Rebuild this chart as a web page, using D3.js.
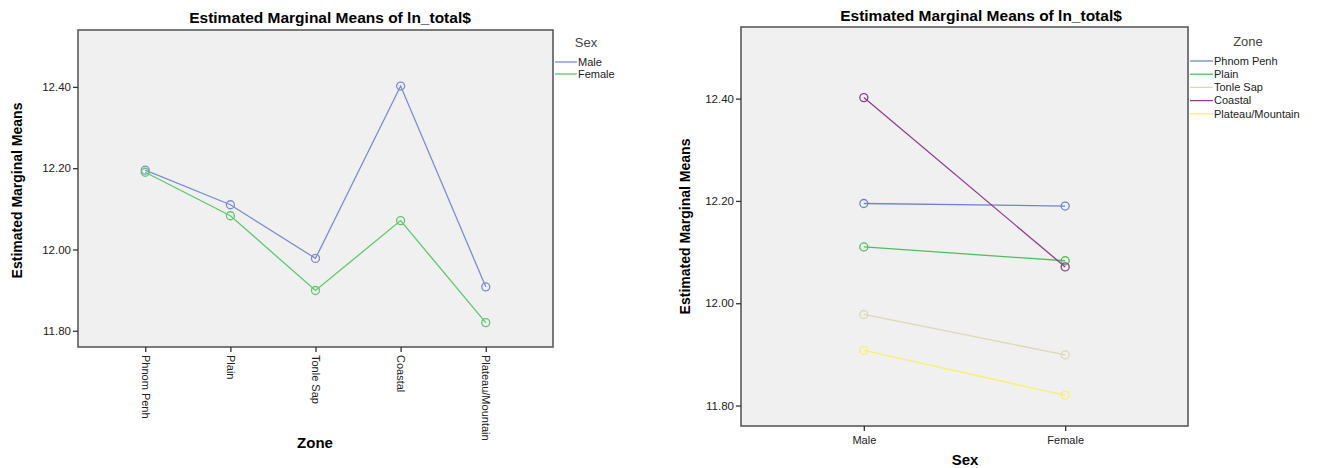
<!DOCTYPE html>
<html><head><meta charset="utf-8">
<script src="https://cdn.jsdelivr.net/npm/d3@7"></script>
<style>body{margin:0;background:#fff}svg{display:block}</style>
</head><body>
<svg id="c" width="1319" height="468"></svg>
<script>
const zones = ["Phnom Penh","Plain","Tonle Sap","Coastal","Plateau/Mountain"];
const sexes = ["Male","Female"];
const maleValues = [12.195, 12.110, 11.978, 12.402, 11.908];
const femaleValues = [12.190, 12.083, 11.899, 12.071, 11.820];
const yTicks = [11.80, 12.00, 12.20, 12.40];
const yDomain = [11.76, 12.54];
const title = "Estimated Marginal Means of ln_total$";
const yLabel = "Estimated Marginal Means";
const sexColors = ["#7b8dd0","#5fc86c"];
const zoneColors = ["#7185cc","#4cc25c","#dcd8b4","#8e3f93","#f6f06c"];

const svg = d3.select("#c");
const font = "'Liberation Sans', Arial, sans-serif";

function frame(g, x0, x1, y0, y1) {
  g.append("rect").attr("x", x0).attr("y", y0).attr("width", x1-x0).attr("height", y1-y0)
    .attr("fill", "#f0f0f0").attr("stroke", "#5a5a5a").attr("stroke-width", 1.6);
}
function yAxis(g, y, x0) {
  const ax = g.append("g").attr("transform", `translate(${x0},0)`)
    .call(d3.axisLeft(y).tickValues(yTicks).tickFormat(d3.format(".2f")).tickSize(5).tickPadding(2));
  ax.select(".domain").remove();
  ax.selectAll("line").attr("stroke", "#333").attr("stroke-width", 1.3);
  ax.selectAll("text").attr("font-family", font).attr("font-size", 11.5).attr("fill", "#222");
}

// ---------- Left chart ----------
{
  const L = {x0: 78, x1: 553, y0: 30, y1: 347};
  const g = svg.append("g");
  const x = d3.scalePoint().domain(zones).range([L.x0, L.x1]).padding(0.79);
  const y = d3.scaleLinear().domain(yDomain).range([L.y1, L.y0]);
  frame(g, L.x0, L.x1, L.y0, L.y1);
  yAxis(g, y, L.x0);
  const xa = g.append("g").attr("transform", `translate(0,${L.y1})`)
    .call(d3.axisBottom(x).tickSize(5).tickPadding(2));
  xa.select(".domain").remove();
  xa.selectAll("line").attr("stroke", "#333").attr("stroke-width", 1.3);
  xa.selectAll("text").attr("font-family", font).attr("font-size", 11).attr("fill", "#222")
    .attr("transform", "rotate(90)").attr("text-anchor", "start").attr("dy", "0.35em").attr("x", 8).attr("y", 0);
  g.append("text").attr("x", 330).attr("y", 23).attr("text-anchor", "middle")
    .attr("font-family", font).attr("font-weight", "bold").attr("font-size", 15.5).text(title);
  g.append("text").attr("transform", `translate(22,${(L.y0+L.y1)/2+2}) rotate(-90)`).attr("text-anchor", "middle")
    .attr("font-family", font).attr("font-weight", "bold").attr("font-size", 14).text(yLabel);
  g.append("text").attr("x", 315).attr("y", 448).attr("text-anchor", "middle")
    .attr("font-family", font).attr("font-weight", "bold").attr("font-size", 15).text("Zone");
  const series = [maleValues, femaleValues];
  const line = d3.line().x((d,i) => x(zones[i])).y(d => y(d));
  series.forEach((vals, si) => {
    g.append("path").attr("d", line(vals)).attr("fill", "none").attr("stroke", sexColors[si]).attr("stroke-width", 1.3);
    g.selectAll(null).data(vals).enter().append("circle")
      .attr("cx", (d,i) => x(zones[i])).attr("cy", d => y(d)).attr("r", 4)
      .attr("fill", "none").attr("stroke", sexColors[si]).attr("stroke-width", 1.3);
  });
  // legend
  g.append("text").attr("x", 586).attr("y", 47).attr("text-anchor", "middle")
    .attr("font-family", font).attr("font-size", 13).attr("fill", "#444").text("Sex");
  sexes.forEach((s, i) => {
    const yy = 62 + i*12;
    g.append("line").attr("x1", L.x1+2).attr("x2", 577).attr("y1", yy).attr("y2", yy).attr("stroke", sexColors[i]).attr("stroke-width", 1.3);
    g.append("text").attr("x", 578).attr("y", yy).attr("dy", "0.35em").attr("font-family", font).attr("font-size", 11).attr("fill", "#222").text(s);
  });
}

// ---------- Right chart ----------
{
  const R = {x0: 741, x1: 1188, y0: 27, y1: 426};
  const g = svg.append("g");
  const x = d3.scalePoint().domain(sexes).range([R.x0, R.x1]).padding(0.61);
  const y = d3.scaleLinear().domain(yDomain).range([R.y1, R.y0]);
  frame(g, R.x0, R.x1, R.y0, R.y1);
  yAxis(g, y, R.x0);
  const xa = g.append("g").attr("transform", `translate(0,${R.y1})`)
    .call(d3.axisBottom(x).tickSize(5).tickPadding(5));
  xa.select(".domain").remove();
  xa.selectAll("line").attr("stroke", "#333").attr("stroke-width", 1.3);
  xa.selectAll("text").attr("font-family", font).attr("font-size", 11).attr("fill", "#222");
  g.append("text").attr("x", 981).attr("y", 21).attr("text-anchor", "middle")
    .attr("font-family", font).attr("font-weight", "bold").attr("font-size", 15.5).text(title);
  g.append("text").attr("transform", `translate(690,${(R.y0+R.y1)/2}) rotate(-90)`).attr("text-anchor", "middle")
    .attr("font-family", font).attr("font-weight", "bold").attr("font-size", 14).text(yLabel);
  g.append("text").attr("x", 965).attr("y", 465).attr("text-anchor", "middle")
    .attr("font-family", font).attr("font-weight", "bold").attr("font-size", 15).text("Sex");
  const line = d3.line().x((d,i) => x(sexes[i])).y(d => y(d));
  zones.forEach((z, zi) => {
    const vals = [maleValues[zi], femaleValues[zi]];
    g.append("path").attr("d", line(vals)).attr("fill", "none").attr("stroke", zoneColors[zi]).attr("stroke-width", 1.3);
    g.selectAll(null).data(vals).enter().append("circle")
      .attr("cx", (d,i) => x(sexes[i])).attr("cy", d => y(d)).attr("r", 4)
      .attr("fill", "none").attr("stroke", zoneColors[zi]).attr("stroke-width", 1.3);
  });
  g.append("text").attr("x", 1248).attr("y", 46).attr("text-anchor", "middle")
    .attr("font-family", font).attr("font-size", 13).attr("fill", "#444").text("Zone");
  zones.forEach((z, i) => {
    const yy = 61 + i*13.2;
    g.append("line").attr("x1", R.x1+2).attr("x2", 1213).attr("y1", yy).attr("y2", yy).attr("stroke", zoneColors[i]).attr("stroke-width", 1.3);
    g.append("text").attr("x", 1214).attr("y", yy).attr("dy", "0.35em").attr("font-family", font).attr("font-size", 11).attr("fill", "#222").text(z);
  });
}
</script>
</body></html>
